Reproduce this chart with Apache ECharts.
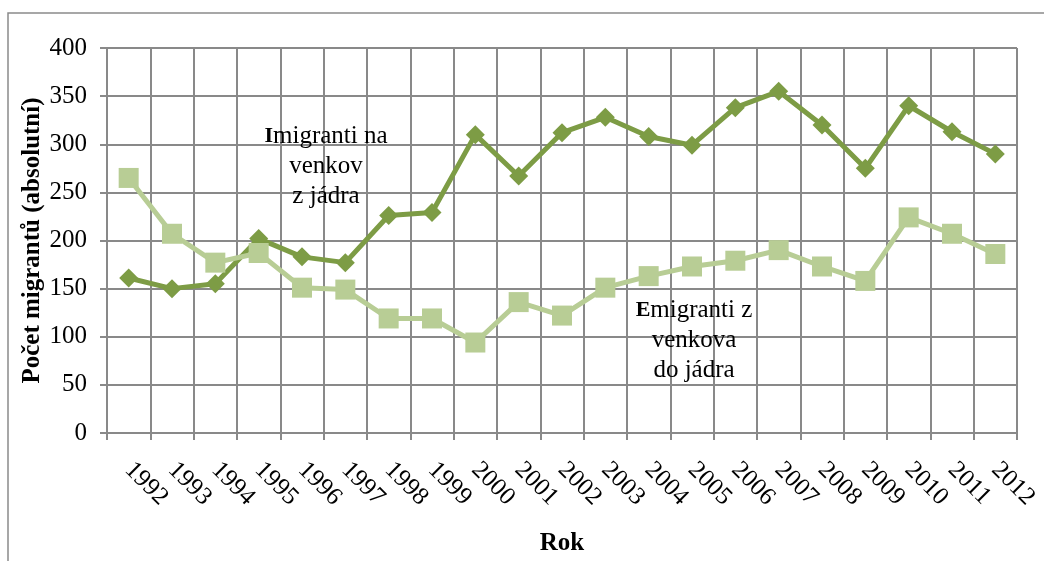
<!DOCTYPE html>
<html>
<head>
<meta charset="utf-8">
<script src="https://cdn.jsdelivr.net/npm/echarts@6/dist/echarts.min.js"></script>
<style>
  html, body { margin: 0; padding: 0; background: #fff; }
  #chart { width: 1044px; height: 561px; }
</style>
</head>
<body>
<div id="chart"></div>
<script>
// roky na ose x
const years = ['1992', '1993', '1994', '1995', '1996', '1997', '1998', '1999', '2000', '2001',
  '2002', '2003', '2004', '2005', '2006', '2007', '2008', '2009', '2010', '2011', '2012']
// imigranti na venkov z jádra
const imigranti = [161, 150, 155, 202, 183, 177, 226, 229, 310, 267,
  312, 328, 308, 299, 338, 355, 320, 275, 340, 313, 290]
// emigranti z venkova do jádra
const emigranti = [265, 207, 177, 187, 151, 149, 119, 119, 94, 136,
  122, 151, 163, 173, 179, 190, 173, 158, 224, 207, 186]
const yTicks = [0, 50, 100, 150, 200, 250, 300, 350, 400]

const gridColor = '#898989'
const font = '"Liberation Serif", "Times New Roman", serif'

const chart = echarts.init(document.getElementById('chart'))

chart.setOption({
  animation: false,
  textStyle: { fontFamily: font, color: '#000' },
  grid: { left: 107, right: 27, top: 48, bottom: 121 },
  xAxis: {
    type: 'category',
    data: years,
    boundaryGap: true,
    name: 'Rok',
    nameLocation: 'middle',
    nameGap: 98,
    nameMoveOverlap: false,
    nameTextStyle: { fontFamily: font, fontSize: 25, fontWeight: 'bold', color: '#000' },
    axisLine: { lineStyle: { color: gridColor, width: 2 } },
    axisTick: { show: true, length: 7, lineStyle: { color: gridColor, width: 2 } },
    splitLine: { show: true, lineStyle: { color: gridColor, width: 2 } },
    axisLabel: {
      rotate: -45,
      margin: 33,
      fontFamily: font,
      fontSize: 25,
      color: '#000',
      interval: 0
    }
  },
  yAxis: {
    type: 'value',
    min: yTicks[0],
    max: yTicks[yTicks.length - 1],
    interval: 50,
    name: 'Počet migrantů (absolutní)',
    nameLocation: 'middle',
    nameGap: 62,
    nameMoveOverlap: false,
    nameTextStyle: { fontFamily: font, fontSize: 25, fontWeight: 'bold', color: '#000' },
    axisLine: { show: true, lineStyle: { color: gridColor, width: 2 } },
    axisTick: { show: true, length: 7, lineStyle: { color: gridColor, width: 2 } },
    splitLine: { show: true, lineStyle: { color: gridColor, width: 2 } },
    axisLabel: { margin: 20, fontFamily: font, fontSize: 25, color: '#000' }
  },
  series: [
    {
      name: 'Imigranti na venkov z jádra',
      type: 'line',
      data: imigranti,
      symbol: 'diamond',
      symbolSize: 19,
      lineStyle: { color: '#7D9C45', width: 5 },
      itemStyle: { color: '#7D9C45' }
    },
    {
      name: 'Emigranti z venkova do jádra',
      type: 'line',
      data: emigranti,
      symbol: 'rect',
      symbolSize: 20,
      lineStyle: { color: '#B8CD95', width: 5 },
      itemStyle: { color: '#B8CD95' }
    }
  ],
  graphic: [
    {
      type: 'rect',
      shape: { x: 8, y: 13, width: 1100, height: 600 },
      style: { fill: 'none', stroke: '#8a8a8a', lineWidth: 1.5 },
      z: -1
    },
    {
      type: 'text',
      x: 326,
      y: 121,
      style: {
        text: '{b|I}migranti na\nvenkov\nz jádra',
        font: '25px ' + font,
        fill: '#000',
        align: 'center',
        lineHeight: 30,
        rich: { b: { fontWeight: 'bold', fontSize: 22, fontFamily: font } }
      },
      z: 10
    },
    {
      type: 'text',
      x: 694,
      y: 295,
      style: {
        text: '{b|E}migranti z\nvenkova\ndo jádra',
        font: '25px ' + font,
        fill: '#000',
        align: 'center',
        lineHeight: 30,
        rich: { b: { fontWeight: 'bold', fontSize: 22, fontFamily: font } }
      },
      z: 10
    }
  ]
})
</script>
</body>
</html>
